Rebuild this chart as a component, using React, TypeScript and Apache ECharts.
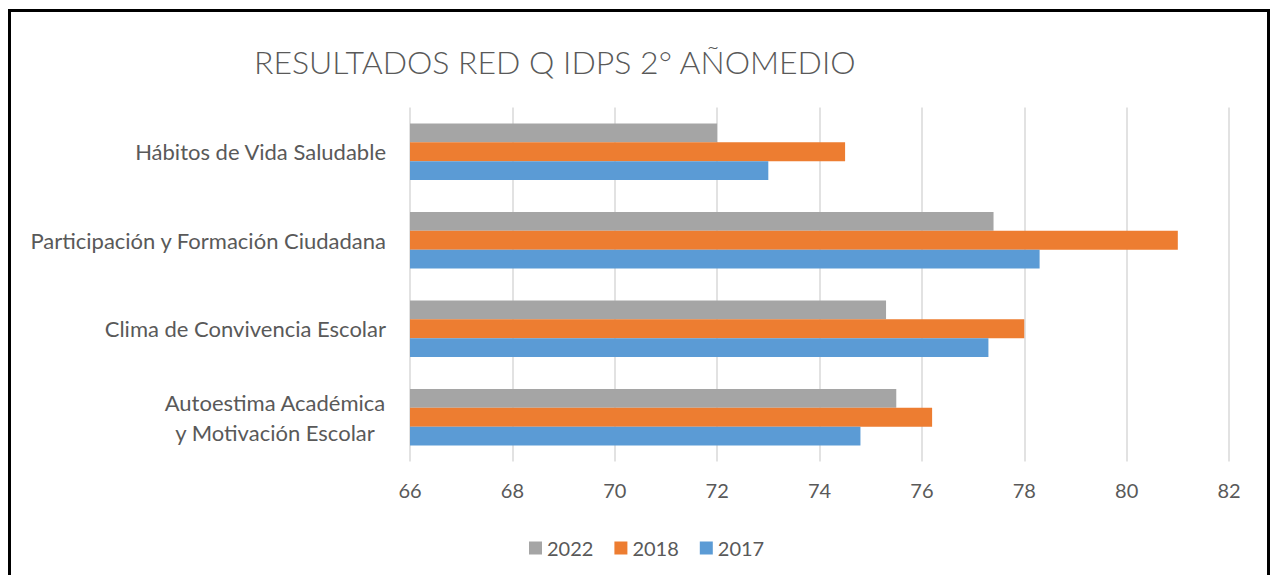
import React, { useEffect, useRef } from "react";
import * as echarts from "echarts";

const categories = [
  "Autoestima Académica\ny Motivación Escolar",
  "Clima de Convivencia Escolar",
  "Participación y Formación Ciudadana",
  "Hábitos de Vida Saludable",
];
const seriesNames = ["2022", "2018", "2017"];
const values2022 = [75.5, 75.3, 77.4, 72.0];
const values2018 = [76.2, 78.0, 81.0, 74.5];
const values2017 = [74.8, 77.3, 78.3, 73.0];
const colors = ["#A5A5A5", "#ED7D31", "#5B9BD5"];
const xMin = 66;
const xMax = 82;
const xStep = 2;
const titleText = "RESULTADOS RED Q IDPS 2° AÑOMEDIO";

const FONT = "Lato";
const TEXT = "#595959";

export default function App() {
  const ref = useRef<HTMLDivElement>(null);
  useEffect(() => {
    if (!ref.current) return;
    const chart = echarts.init(ref.current, undefined, { renderer: "svg" });
    const data = [values2022, values2018, values2017];
    chart.setOption({
      animation: false,
      backgroundColor: "#ffffff",
      textStyle: { fontFamily: FONT },
      title: {
        text: titleText,
        left: 249,
        top: 40,
        textStyle: { fontFamily: FONT, fontSize: 32, fontWeight: 300, color: TEXT },
      },
      legend: {
        data: seriesNames,
        left: 524,
        top: 533,
        icon: "rect",
        itemWidth: 13,
        itemHeight: 13,
        itemGap: 21,
        textStyle: { fontFamily: FONT, fontSize: 20, color: TEXT },
      },
      grid: { left: 410, right: 42, top: 107.5, bottom: 113.5, containLabel: false },
      xAxis: {
        type: "value",
        min: xMin,
        max: xMax,
        interval: xStep,
        axisLine: { show: false },
        axisTick: { show: false },
        splitLine: { show: true, lineStyle: { color: "#D9D9D9", width: 1.5 } },
        axisLabel: { margin: 18, fontFamily: FONT, fontSize: 20, color: TEXT },
      },
      yAxis: {
        type: "category",
        data: categories,
        axisLine: { show: false },
        axisTick: { show: false },
        axisLabel: {
          margin: 24,
          fontFamily: FONT,
          fontSize: 22,
          color: TEXT,
          lineHeight: 30,
          formatter: (v: string) =>
            v.indexOf("\n") >= 0
              ? v.split("\n").map((l) => "{c|" + l + "}").join("\n")
              : v,
          rich: {
            c: {
              width: 222,
              align: "center",
              fontFamily: FONT,
              fontSize: 22,
              color: TEXT,
              lineHeight: 30,
            },
          },
        },
      },
      series: seriesNames.map((name, i) => ({
        name,
        type: "bar",
        data: data[i],
        barGap: "0%",
        barCategoryGap: "36%",
        itemStyle: { color: colors[i] },
      })),
      graphic: [
        { type: "rect", shape: { x: 8, y: 9, width: 3, height: 566 }, style: { fill: "#000" } },
        { type: "rect", shape: { x: 8, y: 9, width: 1262, height: 3 }, style: { fill: "#000" } },
        { type: "rect", shape: { x: 1267, y: 9, width: 3, height: 566 }, style: { fill: "#000" } },
      ],
    });
    return () => chart.dispose();
  }, []);
  return (
    <div
      ref={ref}
      style={{ position: "absolute", left: 0, top: 0, width: 1271, height: 575 }}
    />
  );
}
